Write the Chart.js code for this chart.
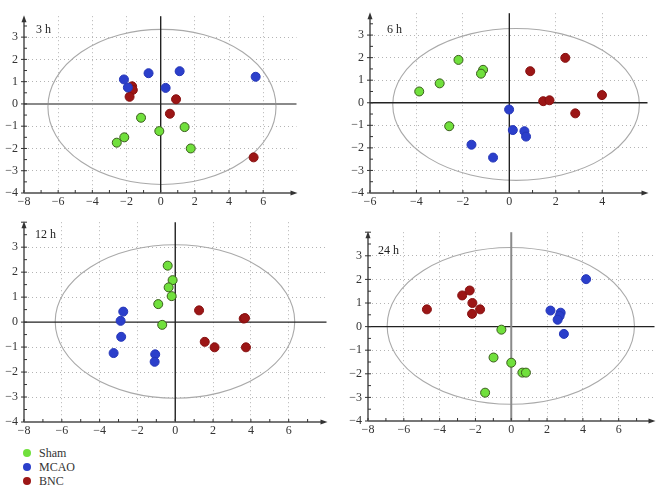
<!DOCTYPE html>
<html><head><meta charset="utf-8">
<script src="https://cdn.jsdelivr.net/npm/chart.js@4/dist/chart.umd.min.js"></script>
<style>
html,body{margin:0;padding:0;background:#fff;width:667px;height:492px;overflow:hidden;position:relative;}
canvas{position:absolute;}
.leg{position:absolute;left:23px;font:12px "Liberation Serif","DejaVu Serif",serif;color:#333;line-height:14px;}
.leg span{display:inline-block;width:8px;height:8px;border-radius:50%;margin-right:8px;vertical-align:-0px;}
</style></head><body>
<canvas id="c1" width="302" height="208" style="left:0px;top:3px"></canvas>
<canvas id="c2" width="307" height="211" style="left:346px;top:0px"></canvas>
<canvas id="c3" width="332" height="231" style="left:0px;top:209px"></canvas>
<canvas id="c4" width="316" height="220" style="left:344px;top:219px"></canvas>
<div id="legend"></div>
<script>
// ---- data ----
const SERIES = ['Sham', 'MCAO', 'BNC'];
const PANEL_LABELS = ['3 h', '6 h', '12 h', '24 h'];
const Y_TICKS = [-4, -3, -2, -1, 0, 1, 2, 3];
const X_TICKS_WIDE = [-8, -6, -4, -2, 0, 2, 4, 6];
const X_TICKS_NARROW = [-6, -4, -2, 0, 2, 4];

const sham3h = [[-1.15,-0.62],[-2.13,-1.50],[-2.57,-1.74],[-0.08,-1.22],[1.40,-1.04],[1.76,-2.00]];
const mcao3h = [[-2.15,1.10],[-1.92,0.74],[-0.71,1.38],[1.11,1.47],[0.29,0.72],[5.56,1.22]];
const bnc3h  = [[-1.67,0.79],[-1.63,0.63],[-1.82,0.32],[0.90,0.21],[0.54,-0.44],[5.44,-2.40]];

const sham6h = [[-3.88,0.50],[-3.00,0.86],[-2.19,1.90],[-1.13,1.46],[-1.22,1.29],[-2.59,-1.04]];
const mcao6h = [[-0.01,-0.30],[0.15,-1.21],[0.65,-1.26],[0.72,-1.50],[-1.63,-1.86],[-0.70,-2.43]];
const bnc6h  = [[0.90,1.40],[2.41,1.99],[1.46,0.07],[1.73,0.11],[3.99,0.34],[2.84,-0.47]];

const sham12h = [[-0.40,2.26],[-0.14,1.68],[-0.35,1.39],[-0.19,1.04],[-0.90,0.72],[-0.69,-0.11]];
const mcao12h = [[-2.75,0.42],[-2.89,0.05],[-2.86,-0.59],[-3.26,-1.24],[-1.06,-1.29],[-1.09,-1.59]];
const bnc12h  = [[1.26,0.47],[1.56,-0.79],[2.08,-1.01],[3.62,0.14],[3.69,0.16],[3.74,-1.01]];

const sham24h = [[-0.55,-0.13],[-0.99,-1.31],[0.00,-1.53],[0.62,-1.95],[0.82,-1.95],[-1.46,-2.80]];
const mcao24h = [[4.18,2.01],[2.19,0.68],[2.76,0.59],[2.70,0.45],[2.59,0.29],[2.94,-0.31]];
const bnc24h  = [[-4.71,0.73],[-2.74,1.32],[-2.32,1.53],[-2.17,1.00],[-2.19,0.54],[-1.74,0.73]];

// ellipse extents [xMin, xMax, yMin, yMax]
const ellipse3h  = [-6.60, 6.75, -3.62, 3.35];
const ellipse6h  = [-5.02, 5.60, -3.44, 3.29];
const ellipse12h = [-6.35, 6.32, -3.05, 3.10];
const ellipse24h = [-6.93, 6.88, -3.29, 3.35];

// ---- styling ----
const FILL = ['#70e03c', '#2b3fcb', '#9c1616'];
const EDGE = ['#3a5c1c', '#2536b8', '#861010'];
const FONT = '"Liberation Serif","DejaVu Serif",serif';

const panels = [
  {id:'c1', label:PANEL_LABELS[0], sets:[sham3h,mcao3h,bnc3h], ell:ellipse3h, xr:[-8,7.95], yr:[-4,3.94], xt:X_TICKS_WIDE, pad:10, lab:[12,14], hz:['#8a8a8a',2], vz:['#222',1.4]},
  {id:'c2', label:PANEL_LABELS[1], sets:[sham6h,mcao6h,bnc6h], ell:ellipse6h, xr:[-6,5.95], yr:[-4,3.97], xt:X_TICKS_NARROW, pad:7, lab:[17,17], hz:['#222',1.4], vz:['#222',1.4]},
  {id:'c3', label:PANEL_LABELS[2], sets:[sham12h,mcao12h,bnc12h], ell:ellipse12h, xr:[-8,8], yr:[-4,4], xt:X_TICKS_WIDE, pad:10, lab:[11,13], hz:['#222',1.4], vz:['#222',1.4]},
  {id:'c4', label:PANEL_LABELS[3], sets:[sham24h,mcao24h,bnc24h], ell:ellipse24h, xr:[-8,8], yr:[-4,4], xt:X_TICKS_WIDE, pad:10, lab:[10,19], hz:['#222',1.4], vz:['#8a8a8a',2]}
];

const decor = {
  id: 'decor',
  beforeDatasetsDraw(chart, args, o) {
    const {ctx, chartArea: a, scales: {x, y}} = chart;
    ctx.save();
    const ln = (x1,y1,x2,y2) => { ctx.beginPath(); ctx.moveTo(x1,y1); ctx.lineTo(x2,y2); ctx.stroke(); };
    // ellipse
    const e = o.ell;
    const ex1 = x.getPixelForValue(e[0]), ex2 = x.getPixelForValue(e[1]);
    const ey1 = y.getPixelForValue(e[2]), ey2 = y.getPixelForValue(e[3]);
    ctx.strokeStyle = '#a9a9a9'; ctx.lineWidth = 1.1;
    ctx.beginPath();
    ctx.ellipse((ex1+ex2)/2, (ey1+ey2)/2, Math.abs(ex2-ex1)/2, Math.abs(ey2-ey1)/2, 0, 0, Math.PI*2);
    ctx.stroke();
    // zero lines
    const x0 = x.getPixelForValue(0), y0 = y.getPixelForValue(0);
    ctx.strokeStyle = o.hz[0]; ctx.lineWidth = o.hz[1];
    ln(a.left, y0, a.right, y0);
    ctx.strokeStyle = o.vz[0]; ctx.lineWidth = o.vz[1];
    ln(x0, a.top, x0, a.bottom);
    // left axis with arrow
    ctx.strokeStyle = '#333'; ctx.fillStyle = '#333'; ctx.lineWidth = 1.3;
    ln(a.left, a.bottom, a.left, a.top + 3);
    ctx.beginPath(); ctx.moveTo(a.left, a.top - 1); ctx.lineTo(a.left - 2.5, a.top + 6); ctx.lineTo(a.left + 2.5, a.top + 6); ctx.closePath(); ctx.fill();
    // y minor ticks every 0.5
    ctx.lineWidth = 1;
    for (let v = o.yr[0]; v <= o.yr[1]; v += 0.5) {
      const p = y.getPixelForValue(v);
      ln(a.left, p, a.left + 3, p);
      if (Number.isInteger(v)) ln(a.left - 3, p, a.left, p);
    }
    // bottom axis with arrow
    ctx.strokeStyle = '#777'; ctx.fillStyle = '#333'; ctx.lineWidth = 2;
    ln(a.left, a.bottom, a.right - 4, a.bottom);
    ctx.beginPath(); ctx.moveTo(a.right + 1, a.bottom); ctx.lineTo(a.right - 6, a.bottom - 2.5); ctx.lineTo(a.right - 6, a.bottom + 2.5); ctx.closePath(); ctx.fill();
    // x minor ticks every 1
    ctx.strokeStyle = '#333'; ctx.lineWidth = 1;
    for (let v = Math.ceil(o.xr[0]); v <= Math.floor(o.xr[1]) - 1; v += 1) {
      const p = x.getPixelForValue(v);
      ln(p, a.bottom - 3, p, a.bottom);
    }
    // panel label
    ctx.fillStyle = '#222';
    ctx.font = '12px ' + FONT;
    ctx.textBaseline = 'middle';
    ctx.fillText(o.label, a.left + o.lab[0], a.top + o.lab[1]);
    ctx.restore();
  }
};

const fmt = v => (v < 0 ? '\u2212' : '') + Math.abs(v);

panels.forEach(P => {
  new Chart(document.getElementById(P.id), {
    type: 'scatter',
    data: {
      datasets: P.sets.map((d, i) => ({
        label: SERIES[i],
        data: d.map(p => ({x: p[0], y: p[1]})),
        backgroundColor: FILL[i],
        borderColor: EDGE[i],
        borderWidth: 1,
        pointRadius: 4.5,
        pointHoverRadius: 4.5
      }))
    },
    options: {
      responsive: false,
      animation: false,
      layout: {padding: {top: P.pad, left: 0, right: 0, bottom: 0}},
      plugins: {
        legend: {display: false},
        tooltip: {enabled: false},
        decor: {ell: P.ell, hz: P.hz, vz: P.vz, xr: P.xr, yr: P.yr, label: P.label, lab: P.lab}
      },
      scales: {
        x: {
          type: 'linear', min: P.xr[0], max: P.xr[1],
          afterBuildTicks: s => { s.ticks = P.xt.map(v => ({value: v})); },
          afterFit: s => { s.height = 18; },
          ticks: {callback: fmt, color: '#333', font: {family: FONT, size: 12}, padding: 2, maxRotation: 0, autoSkip: false},
          grid: {color: c => (c.tick && (c.tick.value === 0 || c.tick.value === P.xr[0])) ? 'rgba(0,0,0,0)' : '#b4b4b4', lineWidth: 1, drawTicks: false},
          border: {display: false, dash: [1, 3]}
        },
        y: {
          type: 'linear', min: P.yr[0], max: P.yr[1],
          afterBuildTicks: s => { s.ticks = Y_TICKS.map(v => ({value: v})); },
          afterFit: s => { s.width = 24; },
          ticks: {callback: fmt, color: '#333', font: {family: FONT, size: 12}, padding: 6, autoSkip: false},
          grid: {color: c => (c.tick && (c.tick.value === 0 || c.tick.value === P.yr[0])) ? 'rgba(0,0,0,0)' : '#b4b4b4', lineWidth: 1, drawTicks: false},
          border: {display: false, dash: [1, 3]}
        }
      }
    },
    plugins: [decor]
  });
});

// legend (HTML text)
const legTops = [446, 460, 474];
document.getElementById('legend').innerHTML = SERIES.map((s, i) =>
  '<div class="leg" style="top:' + legTops[i] + 'px"><span style="background:' + FILL[i] + '"></span>' + s + '</div>'
).join('');
</script>
</body></html>
